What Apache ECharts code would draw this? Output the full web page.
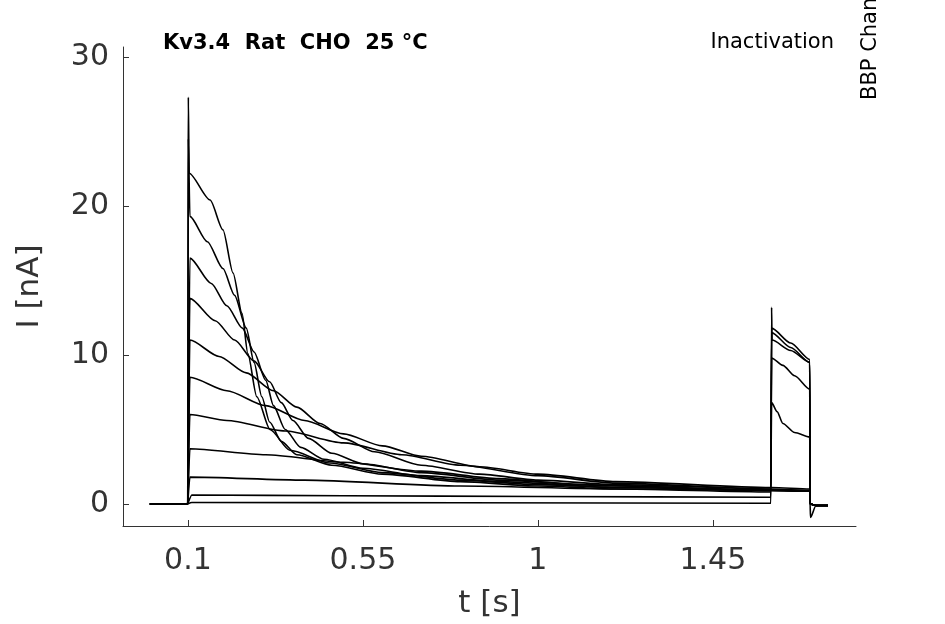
<!DOCTYPE html>
<html>
<head>
<meta charset="utf-8">
<script src="https://cdn.jsdelivr.net/npm/echarts@6/dist/echarts.min.js"></script>
<style>html,body{margin:0;background:#fff}#chart{width:945px;height:624px}</style>
</head>
<body>
<div id="chart"></div>
<script>
// tick labels
const xTicks = [0.1, 0.55, 1, 1.45];
const yTicks = [0, 10, 20, 30];

// prepulse decay phase per sweep, [t, I]
const decay1 = [[0.101, 27.3], [0.103, 22.2], [0.157, 20.4], [0.19, 18.4], [0.216, 15.5], [0.239, 12.8], [0.254, 10.1], [0.277, 7.2], [0.311, 5.0], [0.362, 3.6], [0.465, 2.75], [0.6, 2.1], [0.8, 1.6], [1.0, 1.3], [1.2, 1.1], [1.599, 0.9]];
const decay2 = [[0.101, 24.5], [0.105, 19.3], [0.15, 17.6], [0.19, 15.8], [0.22, 14], [0.25, 11.8], [0.27, 9.5], [0.29, 7.2], [0.31, 5.5], [0.34, 4.2], [0.38, 3.3], [0.47, 2.6], [0.6, 2.0], [0.8, 1.5], [1.0, 1.2], [1.2, 1.0], [1.599, 0.9]];
const decay3 = [[0.105, 16.5], [0.16, 14.8], [0.2, 13.3], [0.24, 11.8], [0.27, 10.2], [0.3, 8.3], [0.32, 6.6], [0.35, 5.0], [0.39, 3.8], [0.45, 3.0], [0.55, 2.4], [0.7, 1.9], [0.9, 1.5], [1.2, 1.1], [1.599, 0.9]];
const decay4 = [[0.105, 13.8], [0.17, 12.3], [0.22, 11.0], [0.27, 9.6], [0.31, 8.2], [0.34, 6.8], [0.37, 5.6], [0.41, 4.4], [0.47, 3.4], [0.55, 2.7], [0.7, 2.1], [0.9, 1.6], [1.2, 1.2], [1.599, 0.95]];
const decay5 = [[0.105, 11.0], [0.18, 9.9], [0.25, 8.8], [0.32, 7.6], [0.38, 6.5], [0.44, 5.4], [0.5, 4.4], [0.58, 3.5], [0.7, 2.6], [0.85, 2.0], [1.0, 1.6], [1.2, 1.3], [1.599, 1.0]];
const decay6 = [[0.105, 8.5], [0.2, 7.6], [0.3, 6.6], [0.4, 5.6], [0.5, 4.7], [0.6, 3.9], [0.7, 3.2], [0.85, 2.5], [1.0, 2.0], [1.2, 1.5], [1.599, 1.1]];
const decay7 = [[0.105, 6.0], [0.2, 5.6], [0.35, 4.9], [0.5, 4.1], [0.65, 3.3], [0.8, 2.6], [1.0, 1.9], [1.2, 1.4], [1.599, 1.0]];
const decay8 = [[0.105, 3.7], [0.3, 3.3], [0.5, 2.8], [0.7, 2.2], [0.9, 1.7], [1.1, 1.3], [1.599, 0.9]];
const decay9 = [[0.105, 1.8], [0.4, 1.6], [0.8, 1.2], [1.2, 1.0], [1.599, 0.8]];
const decay10 = [[0.11, 0.6], [0.5, 0.55], [1.0, 0.5], [1.599, 0.45]];
const decay11 = [[0.11, 0.1], [0.8, 0.08], [1.599, 0.05]];

// test pulse phase per sweep
const test1 = [[1.601, 0.9], [1.699, 0.85]];
const test2 = [[1.601, 0.9], [1.699, 0.85]];
const test3 = [[1.601, 0.9], [1.699, 0.85]];
const test4 = [[1.601, 0.95], [1.699, 0.9]];
const test5 = [[1.601, 1.0], [1.699, 0.9]];
const test6 = [[1.601, 1.1], [1.699, 1.0]];
const test7 = [[1.601, 6.8], [1.615, 6.2], [1.63, 5.4], [1.66, 4.8], [1.699, 4.5]];
const test8 = [[1.601, 9.8], [1.63, 9.3], [1.66, 8.6], [1.699, 7.7]];
const test9 = [[1.601, 13.2], [1.602, 11.0], [1.65, 10.3], [1.699, 9.5]];
const test10 = [[1.601, 11.5], [1.65, 10.5], [1.699, 9.5]];
const test11 = [[1.601, 11.8], [1.65, 10.8], [1.699, 9.7]];
const tailDip = [-0.9, -0.1, -0.1];

const decays = [decay1, decay2, decay3, decay4, decay5, decay6, decay7, decay8, decay9, decay10, decay11];
const tests = [test1, test2, test3, test4, test5, test6, test7, test8, test9, test10, test11];

const series = decays.map((d, i) => {
  const pts = [[0.002, 0], [0.0995, 0], [0.1, 0]].concat(d, [[1.6, d[d.length - 1][1]]], tests[i],
    [[1.7, 0], [1.701, i === 0 ? tailDip[0] : 0], [1.715, tailDip[1]], [1.746, tailDip[2]]]);
  return {
    type: 'line', data: pts, showSymbol: false, symbol: 'none', silent: true,
    smooth: 0.25, smoothMonotone: 'x',
    lineStyle: { color: '#000', width: 1.6 }
  };
});

const chart = echarts.init(document.getElementById('chart'));
chart.setOption({
  animation: false,
  grid: { left: 123, right: 89, top: 47, bottom: 98 },
  title: [
    { text: 'Kv3.4  Rat  CHO  25 °C', left: 158, top: 28, textStyle: { fontSize: 21, fontWeight: 'bold', color: '#000', fontFamily: 'DejaVu Sans' } },
    { text: 'Inactivation', right: 106, top: 27, textStyle: { fontSize: 21, fontWeight: 'normal', color: '#000', fontFamily: 'DejaVu Sans' } }
  ],
  graphic: [{
    type: 'text', rotation: Math.PI / 2, x: 860, y: 100,
    style: { text: 'BBP Channelpedia ID 25972 rep 1', fontSize: 21, fill: '#000', fontFamily: 'DejaVu Sans' }
  }],
  xAxis: {
    type: 'value', min: -0.067, max: 1.818,
    name: 't [s]', nameLocation: 'middle', nameGap: 62,
    nameTextStyle: { fontSize: 31, color: '#333', fontFamily: 'DejaVu Sans' },
    axisLine: { onZero: false, lineStyle: { color: '#333' } },
    axisTick: { show: true, inside: true, length: 6, customValues: xTicks, lineStyle: { color: '#333' } },
    axisLabel: { customValues: xTicks, fontSize: 30, color: '#333', margin: 20, fontFamily: 'DejaVu Sans' },
    splitLine: { show: false }
  },
  yAxis: {
    type: 'value', min: -1.48, max: 30.67,
    name: 'I [nA]', nameLocation: 'middle', nameGap: 78,
    nameTextStyle: { fontSize: 31, color: '#333', fontFamily: 'DejaVu Sans' },
    axisLine: { show: true, onZero: false, lineStyle: { color: '#333' } },
    axisTick: { show: true, inside: true, length: 6, customValues: yTicks, lineStyle: { color: '#333' } },
    axisLabel: { customValues: yTicks, fontSize: 30, color: '#333', margin: 14, fontFamily: 'DejaVu Sans' },
    splitLine: { show: false }
  },
  series: series
});
</script>
</body>
</html>
